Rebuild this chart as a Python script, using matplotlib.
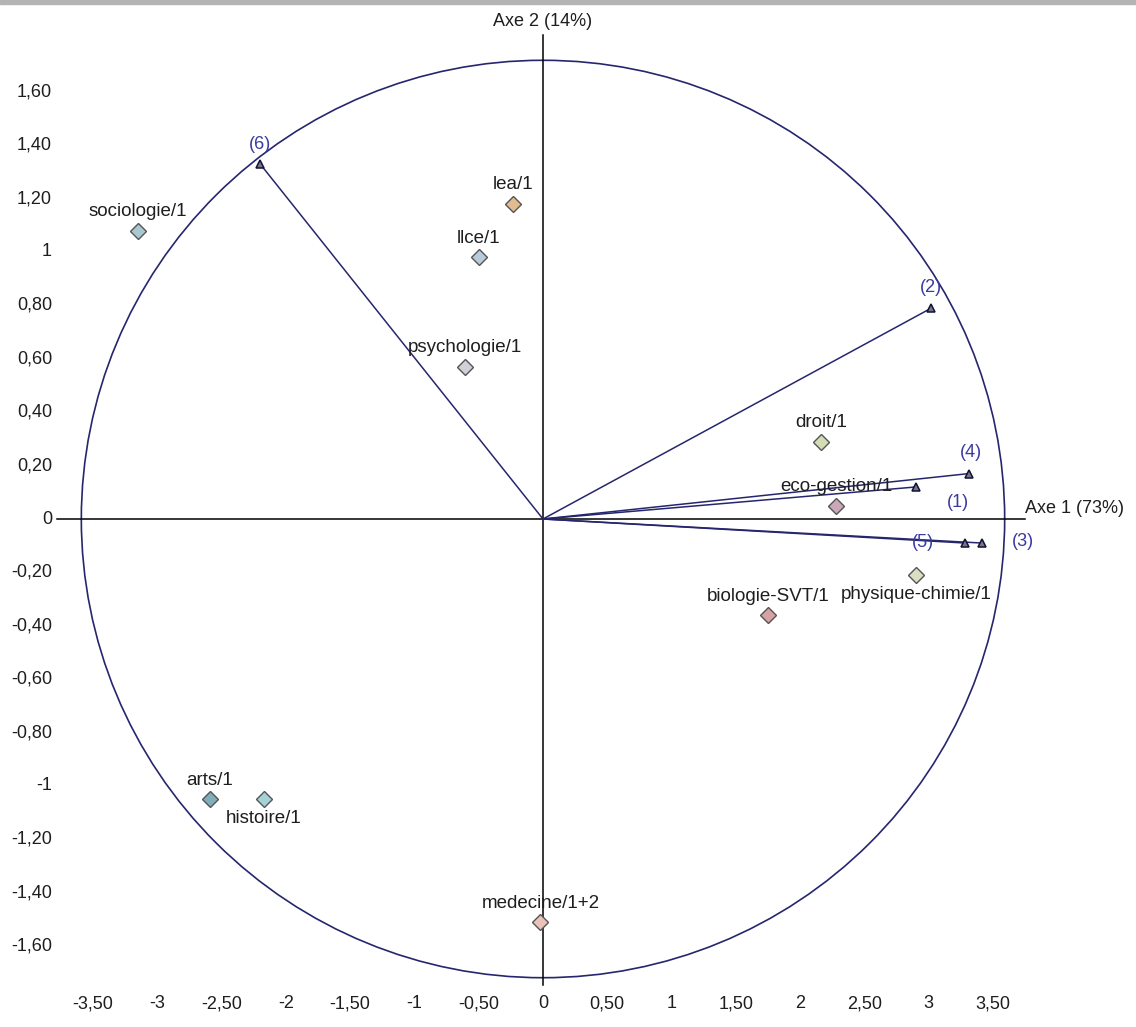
import numpy as np
import matplotlib.pyplot as plt
from matplotlib.patches import Ellipse, Rectangle

plt.rcParams['font.family'] = ['Liberation Sans', 'DejaVu Sans']

# individuals (factor scores on axes 1 and 2)
names = ['sociologie/1', 'lea/1', 'llce/1', 'psychologie/1', 'droit/1',
         'eco-gestion/1', 'physique-chimie/1', 'biologie-SVT/1',
         'arts/1', 'histoire/1', 'medecine/1+2']
ax1 = [-3.15, -0.23, -0.50, -0.61, 2.16, 2.28, 2.90, 1.75, -2.59, -2.17, -0.02]
ax2 = [1.08, 1.18, 0.98, 0.57, 0.29, 0.05, -0.21, -0.36, -1.05, -1.05, -1.51]
label_below = [False, False, False, False, False, False, True, False, False, True, False]
fills = ['#a9c9d2', '#e2bb90', '#b9cad8', '#cfd0d8', '#d3dcb2', '#c9a9b8',
         '#d9e0c2', '#d9a2a2', '#7fb0ba', '#a3d3d6', '#e9c3ba']

# variables (correlation vectors, scaled)
var_labels = ['(1)', '(2)', '(3)', '(4)', '(5)', '(6)']
var_x = [2.90, 3.02, 3.41, 3.31, 3.28, -2.20]
var_y = [0.12, 0.79, -0.09, 0.17, -0.09, 1.33]
# label offsets in pixels
var_off = [(42, -16), (0, 21), (41, 2), (2, 21), (-42, 1), (0, 19)]

x_ticks = [-3.5, -3, -2.5, -2, -1.5, -1, -0.5, 0, 0.5, 1, 1.5, 2, 2.5, 3, 3.5]
y_ticks = [1.6, 1.4, 1.2, 1, 0.8, 0.6, 0.4, 0.2, 0, -0.2, -0.4, -0.6, -0.8,
           -1, -1.2, -1.4, -1.6]

def fr(v):
    if v == int(v):
        return str(int(v))
    return f'{v:.2f}'.replace('.', ',')

# pixel mapping of the original picture
W, H = 1136, 1027
cx, cy = 543, 519
sx, sy = 128.6, 267.0

fig = plt.figure(figsize=(W / 100, H / 100), dpi=100)
ax = fig.add_axes([0, 0, 1, 1])
ax.set_xlim(-cx / sx, (W - cx) / sx)
ax.set_ylim((cy - H) / sy, cy / sy)
ax.axis('off')

fig.patches.append(Rectangle((0, 1 - 4 / H), 1, 4 / H, transform=fig.transFigure,
                             color='#b4b4b4', zorder=0))

navy = '#26266e'
txt = '#1e1e1e'
ax.add_patch(Ellipse((0, 0), 2 * 3.59, 2 * 1.718, fill=False, ec=navy, lw=1.2))

# axes through the origin
ax.plot([(57 - cx) / sx, (1025 - cx) / sx], [0, 0], color='black', lw=1.1)
ax.plot([0, 0], [(cy - 985) / sy, (cy - 35) / sy], color='black', lw=1.1)
ax.text(0, (cy - 22) / sy, 'Axe 2 (14%)', ha='center', va='center', fontsize=13, color=txt)
ax.text((1025 - cx) / sx, (cy - 508) / sy, 'Axe 1 (73%)', ha='left', va='center',
        fontsize=13, color=txt)

# tick labels
for t in x_ticks:
    ax.text(t, (cy - 1004) / sy, fr(t), ha='center', va='center', fontsize=13, color=txt)
for t in y_ticks:
    ax.text((52 - cx) / sx, t, fr(t), ha='right', va='center', fontsize=13, color=txt)

# variable vectors
for lab, x, y, off in zip(var_labels, var_x, var_y, var_off):
    ax.plot([0, x], [0, y], color=navy, lw=1.1)
    ax.plot(x, y, marker='^', ms=6, mfc='#77778a', mec='#111133', mew=1.1, ls='')
    ax.annotate(lab, (x, y), xytext=off, textcoords='offset pixels', ha='center',
                va='center', fontsize=13, color='#3a3aa0')

# individuals
for name, x, y, below, fc in zip(names, ax1, ax2, label_below, fills):
    ax.plot(x, y, marker='D', ms=8, mfc=fc, mec='#555555', mew=1.0, ls='', zorder=3)
    ax.annotate(name, (x, y), xytext=(0, -19 if below else 19), textcoords='offset pixels',
                ha='center', va='center', fontsize=13.5, color=txt)

plt.savefig('out.png', dpi=100)
